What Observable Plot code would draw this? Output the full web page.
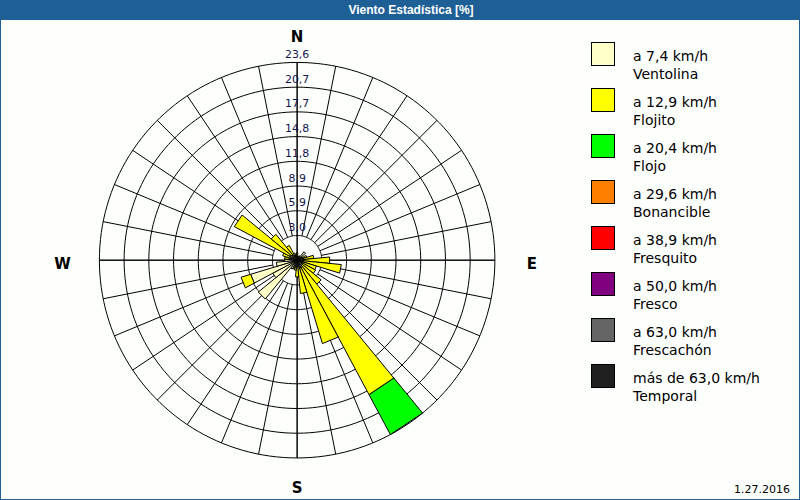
<!DOCTYPE html>
<html>
<head>
<meta charset="utf-8">
<script src="https://cdn.jsdelivr.net/npm/d3@7"></script>
<script src="https://cdn.jsdelivr.net/npm/@observablehq/plot@0.6"></script>
<style>
  html, body { margin: 0; padding: 0; background: #ffffff; }
  #frame { position: relative; width: 800px; height: 500px; background: #fdfffd; overflow: hidden; box-sizing: border-box; border: 1px solid #1e5f96; border-top: none; }
  #title { position: absolute; left: 0; top: 0; width: 800px; height: 20px; background: #1e5f96; color: #fff; font: bold 12px "Liberation Sans", Arial, sans-serif; line-height: 20px; text-align: center; text-indent: 20px; }
  #chart { position: absolute; left: -1px; top: 20px; }
  #legend { position: absolute; left: 590px; top: 42px; font: 14px "DejaVu Sans", sans-serif; color: #000; }
  .item { position: relative; height: 46px; }
  .sw { position: absolute; left: 0; top: 0; width: 22px; height: 22px; border: 1px solid #000; }
  .lbl { position: absolute; left: 42px; top: 5px; line-height: 18px; white-space: nowrap; }
  #date { position: absolute; right: 9px; bottom: 3px; font: 11px "DejaVu Sans", sans-serif; color: #000; }
</style>
</head>
<body>
<div id="frame">
  <div id="title">Viento Estadística [%]</div>
  <div id="chart"></div>
  <div id="legend"></div>
  <div id="date">1.27.2016</div>
</div>
<script>
// 32 directions (11.25° each), bearing = index * 11.25
const directions = d3.range(32).map(i => i * 11.25);
// Ventolina (a 7,4 km/h) per direction, %
const ventolina = [0.6,0.5,0.5,0.6,1.3,0.6,0.7,0.8, 0.8,0.8,0.7,0.7,0.8,1.0,1.0,0.8, 0.7,0.8,0.9,1.2,6.0,3.3,5.8,2.5, 1.5,1.0,0.8,1.0,0.8,0.6,0.6,0.5];
// Flojito (a 12,9 km/h) per direction, %
const flojito   = [0.3,0.0,0.0,0.0,0.0,0.0,0.5,1.2, 3.1,4.5,1.7,1.8,2.9,17.2,9.4,3.2, 1.3,0.4,0.2,0.0,0.0,0.0,1.2,0.0, 0.0,0.5,1.0,7.5,3.2,1.4,0.3,0.2];
// Flojo (a 20,4 km/h) per direction, %
const flojo     = [0,0,0,0,0,0,0,0, 0,0,0,0,0,5.4,0,0, 0,0,0,0,0,0,0,0, 0,0,0,0,0,0,0,0];

const seriesNames = ["a 7,4 km/h","a 12,9 km/h","a 20,4 km/h","a 29,6 km/h","a 38,9 km/h","a 50,0 km/h","a 63,0 km/h","más de 63,0 km/h"];
const seriesSub   = ["Ventolina","Flojito","Flojo","Bonancible","Fresquito","Fresco","Frescachón","Temporal"];
const seriesColors = ["#ffffc8","#ffff00","#00ff00","#ff8000","#ff0000","#800080","#646464","#202020"];

const ringValues = [2.95, 5.9, 8.85, 11.8, 14.75, 17.7, 20.65, 23.6];
const ringLabels = ["3,0","5,9","8,9","11,8","14,8","17,7","20,7","23,6"];

const R = ringValues[ringValues.length - 1];
const rad = a => a * Math.PI / 180;
const px = (r, a) => r * Math.sin(rad(a));
const py = (r, a) => r * Math.cos(rad(a));

// ring circles
const ringPts = [];
ringValues.forEach((r, k) => {
  for (let a = 0; a <= 360; a += 2) ringPts.push({ring: k, x: px(r, a), y: py(r, a)});
});
// spokes
const spokes = directions.map((a, i) => {
  const r0 = (i % 8 === 0) ? -R : ringValues[0];
  return {x1: px(r0, a), y1: py(r0, a), x2: px(R, a), y2: py(R, a)};
});
// wedge polygons
const stacks = [ventolina, flojito, flojo];
const half = 11.25 / 2;
const wedgePts = [];
let id = 0;
directions.forEach((a, i) => {
  let r0 = 0;
  stacks.forEach((s, k) => {
    const v = s[i];
    if (v > 0) {
      const r1 = r0 + v;
      const pts = r0 === 0
        ? [[0,0],[px(r1,a-half),py(r1,a-half)],[px(r1,a+half),py(r1,a+half)],[0,0]]
        : [[px(r0,a-half),py(r0,a-half)],[px(r1,a-half),py(r1,a-half)],[px(r1,a+half),py(r1,a+half)],[px(r0,a+half),py(r0,a+half)],[px(r0,a-half),py(r0,a-half)]];
      pts.forEach(p => wedgePts.push({id, color: seriesColors[k], x: p[0], y: p[1]}));
      id++;
      r0 = r1;
    }
  });
});

const compassMark = (t, a, dx, dy) => Plot.text([{t, a}], {
  x: d => px(R, d.a), y: d => py(R, d.a), text: "t", dx, dy,
  fontSize: 15, fontWeight: "bold", fill: "#000", fontFamily: "DejaVu Sans"
});

const cx = 297, cy = 240, pr = 198;
const chart = Plot.plot({
  width: 800, height: 480,
  style: {background: "transparent", overflow: "visible"},
  x: {domain: [-R, R], range: [cx - pr, cx + pr], axis: null},
  y: {domain: [-R, R], range: [cy + pr, cy - pr], axis: null},
  marks: [
    Plot.line(ringPts, {x: "x", y: "y", z: "ring", stroke: "#000", strokeWidth: 1}),
    Plot.link(spokes, {x1: "x1", y1: "y1", x2: "x2", y2: "y2", stroke: "#000", strokeWidth: 1}),
    Plot.line(wedgePts, {x: "x", y: "y", z: "id", fill: "color", stroke: "#000", strokeWidth: 1, strokeLinejoin: "miter"}),
    Plot.text(ringValues, {x: 0, y: d => d, text: (d, i) => ringLabels[i], dy: -8, fill: "#141450", fontSize: 11, fontFamily: "DejaVu Sans"}),
    compassMark("N", 0, 0, -25),
    compassMark("E", 90, 37, 4),
    compassMark("S", 180, 0, 30),
    compassMark("W", 270, -37, 4)
  ]
});
document.getElementById("chart").appendChild(chart);

const legend = document.getElementById("legend");
seriesNames.forEach((n, i) => {
  const it = document.createElement("div");
  it.className = "item";
  it.innerHTML = `<div class="sw" style="background:${seriesColors[i]}"></div><div class="lbl">${n}<br>${seriesSub[i]}</div>`;
  legend.appendChild(it);
});
</script>
</body>
</html>
